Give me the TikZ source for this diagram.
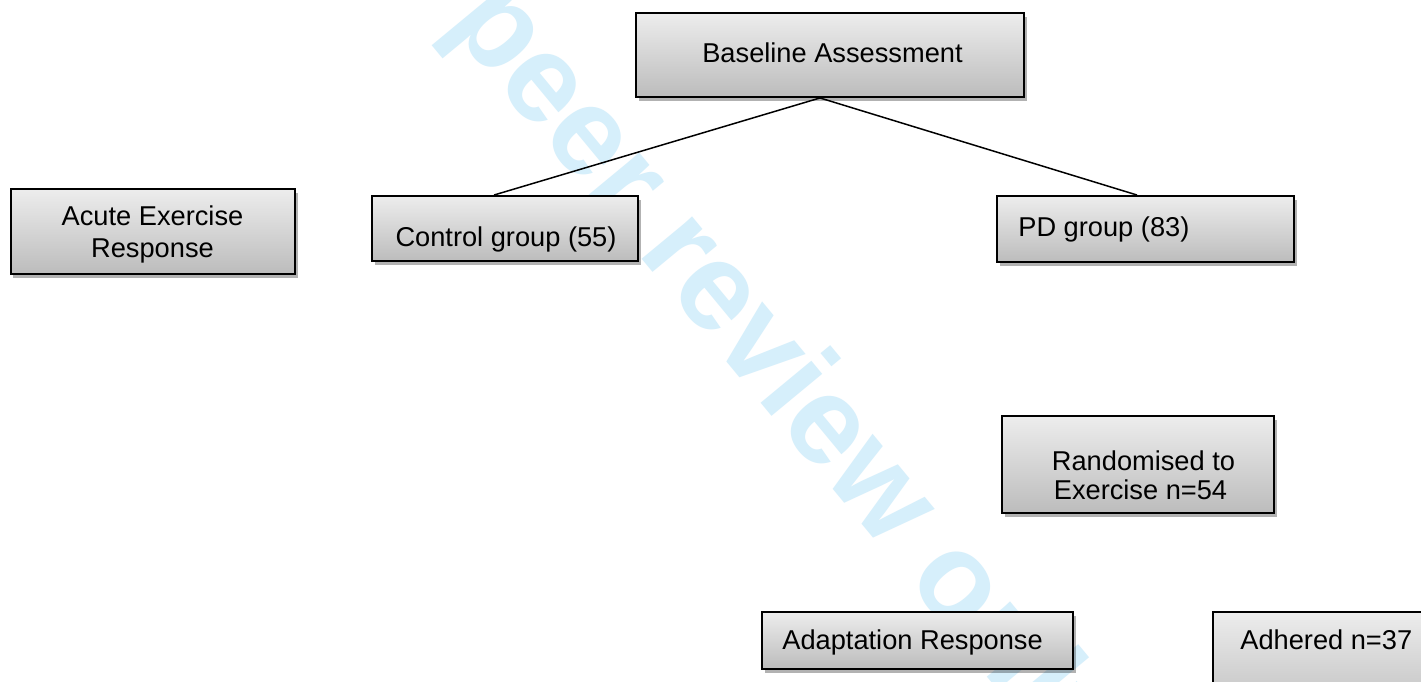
\documentclass[tikz,border=0pt]{standalone}
\usepackage{fontspec}
\setmainfont{Liberation Sans}
\usetikzlibrary{shadows,fit}
\definecolor{wm}{RGB}{214,239,251}
\definecolor{boxtop}{RGB}{237,237,237}
\definecolor{boxbot}{RGB}{188,188,188}
\begin{document}
\begin{tikzpicture}[x=0.02cm,y=-0.02cm,
  box/.style={draw=black, line width=1.1pt, top color=boxtop, bottom color=boxbot,
    drop shadow={shadow xshift=0.05cm, shadow yshift=-0.08cm, opacity=0.3, fill=black},
    inner sep=0pt},
  lbl/.style={font=\fontsize{15.5}{18}\selectfont, inner sep=0pt, text=black},
  conn/.style={line width=0.85pt},
  wmark/.style={font=\fontsize{71}{80}\selectfont\bfseries, text=wm, inner sep=0pt}]
\useasboundingbox (0,0) rectangle (1421,682);
\clip (0,0) rectangle (1421,682);
\fill[white] (0,0) rectangle (1421,682);

% watermark
\node[wmark, rotate=-50.4, anchor=base west] (wm) at (296,-159) {For peer review only};

% boxes
\node[box, fit={(636,13) (1024,97)}] (base) {};
\node[box, fit={(11,189) (295,274)}] (acute) {};
\node[box, fit={(372,196) (638,261)}] (ctrl) {};
\node[box, fit={(997,196) (1294,262)}] (pd) {};
\node[box, fit={(1002,416) (1274,513)}] (rand) {};
\node[box, fit={(762,612) (1073,669)}] (adapt) {};
\node[box, fit={(1213,612) (1460,720)}] (adh) {};

% connectors
\draw[conn] ([xshift=-0.2cm]base.south) -- ([xshift=-0.22cm]ctrl.north);
\draw[conn] ([xshift=-0.2cm]base.south) -- ([xshift=-0.17cm]pd.north);

% labels
\node[lbl, anchor=base] (tbase) at (832.5,63) {Baseline Assessment};
\node[lbl, anchor=base] (tacute1) at (152.5,226) {Acute Exercise};
\node[lbl, anchor=base] (tacute2) at (152.5,258) {Response};
\node[lbl, anchor=base] (tctrl) at (506,246.5) {Control group (55)};
\node[lbl, anchor=base west] (tpd) at (1018,237) {PD group (83)};
\node[lbl, anchor=base] (trand1) at (1143.5,470.5) {Randomised to};
\node[lbl, anchor=base] (trand2) at (1140.5,500) {Exercise n=54};
\node[lbl, anchor=base west] (tadapt) at (782,649) {Adaptation Response};
\node[lbl, anchor=base west] (tadh) at (1240,649) {Adhered n=37};
\end{tikzpicture}
\end{document}
